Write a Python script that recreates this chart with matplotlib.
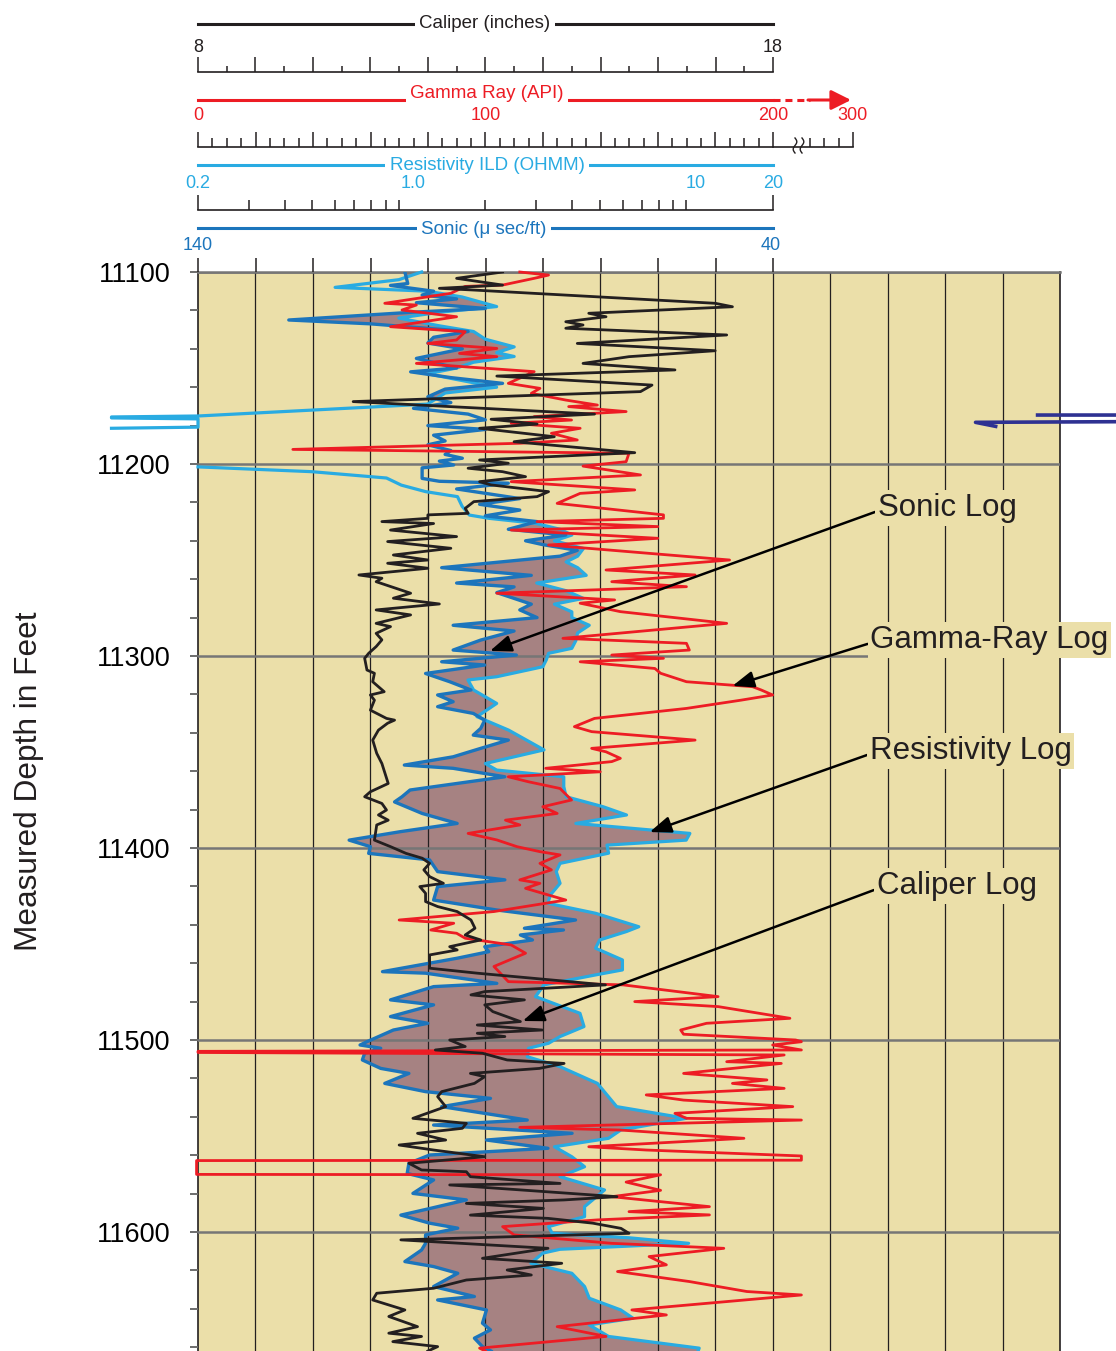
import numpy as np
import matplotlib
matplotlib.use("Agg")
import matplotlib.pyplot as plt

plt.rcParams['font.family'] = ['Liberation Sans', 'DejaVu Sans']
nan = np.nan

# ---- log readings (depth in feet) ----
cal_depth = [11100, 11103.3, 11106.8, 11108.5, 11109.4, 11116.3, 11118.1, 11121.5, 11123.3, 11125.9,
             11127.6, 11129.3, 11132.8, 11137.2, 11141.0, 11144.1, 11147.6, 11151.0, 11154.2, 11158.9,
             11162.3, 11167.5, 11174.0, 11176.7, 11179.2, 11181.4, 11185.8, 11188.4, 11194.1, 11197.9,
             11199.6, 11202.2, 11204.0, 11206.6, 11209.2, 11210.9, 11214.4, 11217.0, 11219.6, 11223.1,
             11225.7, 11226.5, 11228.3, 11230.0, 11231.0, 11234.4, 11237.8, 11240.4, 11243.9, 11247.4,
             11250.0, 11251.7, 11254.3, 11257.8, 11259.5, 11261.3, 11267.3, 11269.9, 11272.9, 11276.0,
             11278.6, 11283.0, 11284.7, 11288.2, 11291.6, 11295.1, 11298.6, 11301.2, 11307.3, 11309.0,
             11313.4, 11318.6, 11320.3, 11323.0, 11328.2, 11332.5, 11333.4, 11335.0, 11338.6, 11343.8,
             11350.7, 11356.0, 11366.4, 11370.7, 11373.3, 11376.8, 11380.2, 11382.8, 11385.5, 11388.0,
             11395.9, 11399.3, 11402.8, 11405.3, 11408.0, 11411.4, 11414.9, 11418.4, 11420.1, 11423.6,
             11427.9, 11430.5, 11433.1, 11437.5, 11441.8, 11445.3, 11447.9, 11451.4, 11453.1, 11455.7,
             11462.6, 11465.2, 11471.3, 11474.8, 11476.5, 11479.1, 11481.7, 11485.2, 11490.4, 11492.2,
             11494.8, 11496.5, 11498.2, 11500.0, 11503.4, 11505.2, 11506.9, 11510.4, 11512.2, 11514.8,
             11517.4, 11519.1, 11522.6, 11526.9, 11529.5, 11534.7, 11540.8, 11543.4, 11546.0, 11548.6,
             11552.1, 11554.7, 11557.3, 11560.8, 11564.2, 11567.7, 11568.6, 11571.2, 11574.7, 11575.5,
             11581.6, 11583.3, 11585.1, 11587.7, 11591.2, 11592.9, 11595.4, 11598.1, 11600.7, 11604.1,
             11608.5, 11613.7, 11616.3, 11619.8, 11622.4, 11625.0, 11629.3, 11631.9, 11635.4, 11640.6,
             11644.0, 11649.3, 11652.7, 11654.4, 11657.1, 11659.7, 11662.0]
caliper = [13.3, 12.5, 13.3, 12.2, 12.8, 17.0, 17.3, 14.8, 15.1, 14.4,
           14.7, 14.4, 17.2, 14.6, 17.0, 15.5, 14.7, 16.3, 13.2, 15.9,
           15.7, 10.7, 14.9, 13.1, 13.9, 12.9, 14.2, 13.5, 15.6, 12.9,
           13.4, 12.7, 13.3, 13.7, 12.9, 13.1, 14.1, 13.9, 12.8, 12.65,
           12.7, 12.0, 12.0, 11.2, 12.1, 11.35, 12.5, 11.3, 12.4, 11.4,
           12.0, 11.3, 12.0, 10.8, 11.2, 11.1, 11.7, 11.4, 12.2, 11.1,
           11.7, 11.1, 11.35, 11.1, 11.2, 11.1, 10.97, 10.9, 10.94, 11.07,
           11.04, 11.24, 11.0, 11.07, 11.0, 11.28, 11.42, 11.3, 11.14, 11.04,
           11.11, 11.2, 11.31, 11.0, 10.9, 11.2, 11.28, 11.14, 11.31, 11.11,
           11.07, 11.35, 11.62, 11.9, 12.03, 11.93, 12.03, 12.27, 11.86, 11.96,
           11.96, 12.17, 12.51, 12.75, 12.82, 12.65, 12.92, 12.38, 12.51, 12.03,
           12.03, 12.86, 15.09, 12.99, 12.75, 13.68, 12.99, 13.13, 13.61, 12.86,
           13.99, 12.86, 13.34, 12.38, 12.65, 12.13, 12.95, 13.38, 14.37, 13.94,
           12.74, 12.99, 12.81, 12.24, 12.17, 12.31, 11.74, 12.67, 12.6, 11.82,
           12.31, 11.5, 12.1, 12.99, 11.67, 11.89, 12.67, 12.74, 14.3, 12.38,
           15.29, 14.37, 12.67, 14.01, 12.74, 14.09, 14.87, 15.36, 15.5, 11.53,
           14.09, 12.95, 14.33, 13.38, 13.8, 12.67, 12.1, 11.11, 11.04, 11.6,
           11.32, 11.82, 11.32, 11.89, 11.39, 12.17, 12.0]

gr_depth = [11100.0, 11101.6, 11103.3, 11106.8, 11107.5, 11111.1, 11116.3, 11117.2, 11119.8, 11123.3,
            11128.5, 11131.1, 11135.4, 11137.2, 11139.8, 11142.4, 11144.1, 11147.6, 11150.2, 11151.9,
            11158.0, 11160.6, 11163.2, 11166.7, 11169.3, 11170.1, 11172.7, 11175.3, 11177.1, 11178.8,
            11181.4, 11184.0, 11187.5, 11189.2, 11192.4, 11194.4, 11198.8, 11201.1, 11205.7, 11209.2,
            11213.5, 11215.3, 11220.5, 11226.5, 11228.3, 11230.0, 11232.6, 11234.4, 11238.7, 11242.2,
            11250.0, 11255.2, 11257.8, 11261.3, 11263.9, 11267.3, 11270.8, 11272.5, 11276.9, 11283.0,
            11290.8, 11293.4, 11296.9, 11299.5, 11301.2, 11303.0, 11306.5, 11309.0, 11313.4, 11316.0,
            11317.7, 11320.3, 11323.0, 11327.3, 11332.5, 11336.8, 11339.4, 11343.8, 11348.1, 11349.9,
            11353.3, 11355.0, 11358.5, 11360.3, 11362.9, 11365.5, 11369.0, 11375.0, 11378.5, 11382.0,
            11385.5, 11388.0, 11392.4, 11395.8, 11399.3, 11401.9, 11403.6, 11408.0, 11411.4, 11416.6,
            11418.4, 11421.0, 11427.1, 11433.1, 11437.5, 11439.2, 11442.7, 11444.4, 11447.0, 11450.5,
            11454.8, 11461.7, 11469.6, 11471.3, 11477.4, 11480.0, 11482.6, 11488.7, 11491.3, 11494.8,
            11497.0, 11500.0, 11500.9, 11502.6, 11505.2, 11505.9, 11506.5, 11507.8, 11511.3, 11512.2,
            11517.4, 11520.8, 11522.6, 11525.2, 11528.6, 11531.3, 11534.7, 11538.2, 11540.8, 11541.7,
            11545.5, 11546.9, 11551.2, 11555.6, 11557.3, 11560.4, 11562.6, 11562.8, 11570.0, 11570.2,
            11574.0, 11578.3, 11581.6, 11586.8, 11589.4, 11591.1, 11593.7, 11597.2, 11601.5, 11605.9,
            11608.5, 11612.8, 11617.1, 11620.6, 11625.8, 11631.0, 11632.8, 11640.6, 11643.2, 11649.3,
            11654.4, 11660.5, 11662.0]
gamma = [112, 122, 117, 106, 93, 88, 65, 76, 71, 90,
         67, 93, 90, 80, 104, 91, 104, 76, 101, 117,
         108, 119, 116, 128, 139, 129, 149, 117, 130, 109,
         133, 123, 132, 112, 33, 150, 149, 134, 154, 109,
         152, 133, 125, 162, 162, 118, 160, 109, 160, 122,
         185, 142, 173, 144, 170, 104, 145, 133, 147, 184,
         127, 170, 171, 144, 162, 133, 159, 161, 170, 193,
         196, 200, 189, 170, 138, 131, 137, 173, 137, 142,
         147, 144, 121, 140, 108, 115, 126, 130, 120, 125,
         107, 112, 94, 104, 111, 119, 126, 119, 123, 112,
         119, 114, 128, 103, 70, 89, 81, 90, 93, 109,
         114, 103, 108, 148, 181, 152, 181, 206, 177, 168,
         169, 208, 210, 200, 210, 0, 0, 204, 184, 203,
         169, 198, 186, 204, 156, 169, 207, 166, 170, 210,
         112, 147, 190, 136, 156, 210, 210, -0.5, -0.5, 161,
         149, 161, 144, 178, 150, 178, 139, 106, 110, 144,
         183, 157, 163, 146, 171, 191, 210, 151, 163, 125,
         142, 98, 100]

son_depth = [11100, 11106, 11107, 11110, 11112, 11114, 11116, 11119, 11121, 11125,
             11127, 11131, 11134, 11137, 11140, 11145, 11150, 11152, 11155, 11158,
             11161, 11165, 11168, 11171, 11174, 11177, 11180, 11182, 11185, 11188,
             11190, 11193, 11195, 11197, 11198.5, 11200.5, 11202, 11207.5, 11209, 11210,
             11213, 11218, 11221, 11224, 11227, 11230, 11234, 11237, 11240, 11242,
             11245, 11248, 11254, 11258, 11262, 11264, 11267, 11271, 11273, 11276,
             11280, 11284, 11287, 11291.7, 11296.9, 11299.5, 11303.0, 11304.7, 11309.1, 11313.4,
             11317.7, 11320.3, 11323.8, 11326.4, 11329.9, 11333.4, 11337.7, 11341.2, 11343.8, 11348.1,
             11352.5, 11356.8, 11358.5, 11362.9, 11366.4, 11369.8, 11373.3, 11376.0, 11378.5, 11382.0,
             11387.2, 11391.5, 11395.9, 11399.3, 11402.8, 11406.2, 11412.3, 11416.6, 11420.1, 11427.1,
             11432.3, 11437.5, 11441.8, 11442.7, 11445.3, 11447.9, 11451.4, 11454.0, 11457.4, 11464.4,
             11465.2, 11470.5, 11472.2, 11479.1, 11481.7, 11487.8, 11491.3, 11494.8, 11500.9, 11502.6,
             11504.3, 11506.9, 11510.4, 11514.8, 11517.4, 11522.6, 11526.9, 11530.4, 11534.7, 11541.7,
             11544.3, 11548.6, 11552.1, 11556.4, 11559.9, 11564.2, 11569.5, 11572.9, 11579.9, 11583.3,
             11588.0, 11591.2, 11595.4, 11598.0, 11601.5, 11605.9, 11609.4, 11615.4, 11618.0, 11621.5,
             11628.4, 11633.6, 11635.4, 11640.6, 11647.5, 11651.0, 11655.3, 11659.7, 11662.0]
sonic = [104, 103.5, 106.5, 99, 101, 95, 102, 90, 103, 124.2,
         110, 93, 99, 100, 94, 102, 95, 103, 96, 87,
         97, 100, 96, 102.5, 93, 90, 100, 90, 99, 97,
         100, 96, 97, 94, 98, 95.5, 101, 101, 98, 86,
         95, 84, 91, 84, 90, 81, 86, 76, 83, 80,
         74, 77, 97.6, 82, 95, 85, 88, 84, 82, 84,
         81, 95.6, 85, 90.8, 95.6, 84.6, 97.6, 90.1, 100.4, 96.2,
         92.5, 98.3, 95.6, 98.3, 92.1, 90.1, 90.8, 92.1, 86.0, 90.8,
         95.6, 104.1, 95.6, 86.6, 94.9, 103.1, 104.5, 105.8, 103.8, 101.0,
         94.9, 104.8, 113.7, 110.0, 110.3, 99.7, 98.3, 86.6, 98.3, 99.0,
         88.0, 74.3, 83.2, 76.4, 83.9, 81.8, 90.1, 89.4, 94.9, 107.9,
         100.4, 88.0, 99.0, 106.5, 99.0, 106.5, 100.0, 106.0, 110.6, 111.8,
         108.2, 111.0, 111.4, 108.2, 103.3, 107.5, 100.4, 89.1, 97.6, 82.7,
         99.0, 74.9, 89.8, 79.1, 99.7, 103.3, 103.6, 99.0, 102.6, 93.3,
         100.0, 104.7, 99.7, 94.8, 100.4, 100.4, 101.1, 104.0, 99.0, 94.8,
         99.0, 91.9, 98.3, 89.8, 90.5, 89.1, 91.9, 90.5, 89.0]

res_depth = [11100, 11104, 11108, 11110, 11113, 11118, 11121, 11124, 11128, 11131,
             11135, 11139, 11142, 11144, 11147, 11150, 11153, 11156, 11160, 11163,
             11168.8, 11175.0, 11175.5, 11176.0, 11176.5, 11180.8, 11181.4, 11191.0, 11201.5, 11204.0,
             11207.3, 11211.0, 11214.4, 11217.0, 11222.0, 11226.6, 11228.3, 11230.9, 11234.0, 11237.0,
             11240.0, 11244.0, 11248.0, 11251.0, 11254.0, 11258.0, 11262.0, 11266.0, 11270.0, 11273.0,
             11277.0, 11280.0, 11284.0, 11288.0, 11292.0, 11296.0, 11298.6, 11302.0, 11305.6, 11310.8,
             11312.5, 11317.7, 11324.7, 11331.6, 11338.6, 11348.9, 11356.0, 11359.4, 11362.9, 11368.0,
             11373.3, 11378.5, 11382.8, 11387.2, 11392.4, 11395.9, 11398.5, 11402.7, 11408.0, 11412.3,
             11418.4, 11424.4, 11428.8, 11434.0, 11441.0, 11443.5, 11447.9, 11452.2, 11458.3, 11463.5,
             11466.1, 11471.3, 11477.4, 11486.1, 11493.0, 11498.2, 11501.7, 11504.3, 11508.7, 11513.9,
             11522.6, 11534.7, 11540.8, 11546.9, 11551.2, 11555.6, 11560.8, 11566.0, 11571.2, 11578.1,
             11586.8, 11592.0, 11597.2, 11600.7, 11603.0, 11605.9, 11609.0, 11611.0, 11616.3, 11621.5,
             11628.4, 11634.5, 11640.6, 11644.9, 11648.4, 11654.4, 11660.5, 11662.0]
resist = [1.2, 1.0, 0.60, 1.26, 1.66, 2.19, 1.38, 1.0, 1.38, 1.82,
          2.0, 2.52, 2.19, 2.52, 1.82, 1.59, 1.26, 1.59, 2.19, 1.45,
          1.26, 0.2, 0.1, 0.1, 0.2, 0.2, 0.1, nan, 0.2, 0.498,
          0.906, 1.02, 1.24, 1.60, 1.66, 1.76, 2.06, 2.99, 3.64, 4.0,
          3.48, 4.39, 4.19, 3.82, 4.19, 4.49, 3.02, 3.82, 4.39, 3.48,
          4.0, 4.0, 4.60, 4.19, 4.13, 4.0, 3.32, 3.26, 3.17, 2.19,
          1.74, 1.82, 2.19, 1.87, 2.41, 3.20, 2.0, 2.19, 3.75, 3.75,
          3.82, 5.14, 6.20, 4.13, 10.3, 10.0, 5.30, 5.37, 3.64, 3.53,
          3.64, 3.37, 3.30, 4.84, 6.84, 6.20, 5.0, 4.84, 6.0, 6.0,
          4.84, 3.20, 2.99, 4.27, 4.41, 3.64, 3.32, 2.83, 2.80, 3.64,
          4.91, 5.73, 10.0, 5.92, 5.37, 3.48, 4.0, 4.43, 3.64, 5.20,
          4.43, 4.43, 3.32, 3.42, 6.32, 10.2, 3.64, 3.17, 2.88, 4.0,
          4.43, 4.60, 5.92, 6.53, 4.60, 5.37, 11.1, 11.0]

# sonic trace wrapping in from beyond the right edge
wrap_depth = [11174.5, 11174.5, 11176.0, 11177.9, 11178.3, 11180.4]
sonic_wrap = [-25, -6.1, nan, -25, 4.7, 1.2]

depth_ticks = [11100, 11200, 11300, 11400, 11500, 11600]

# ---- colours ----
TAN = '#ebdfa9'
FILL = '#a68282'
K = '#231f20'
RED = '#ed1c24'
LBLUE = '#29abe2'
DBLUE = '#1c75bc'
NAVY = '#2e3192'

W, H = 1116, 1351
fig = plt.figure(figsize=(W / 100, H / 100), dpi=100)

# main track: 1.92 px per foot, starts at 11100 on pixel row 272
ax = fig.add_axes([198 / W, 0, 862 / W, 1079 / H])
ax.set_facecolor(TAN)
ax.set_xlim(8, 23)
ax.set_ylim(11100 + 1079 / 1.92, 11100)
ax.set_axisbelow(False)
ax.set_xticks(np.arange(9, 23))
ax.tick_params(axis='x', length=0, labelbottom=False)
ax.grid(axis='x', color=K, lw=0.9)
ax.set_yticks(depth_ticks)
ax.set_yticklabels([str(d) for d in depth_ticks], fontsize=19.5)
ax.set_yticks(np.arange(11100, 11661, 20), minor=True)
ax.grid(axis='y', which='major', color='#767676', lw=1.8)
ax.tick_params(axis='y', which='both', length=5.8, width=1.4, color='#6d6d6d', pad=14)
ax.spines['bottom'].set_visible(False)
ax.spines['top'].set_color('#767676')
ax.spines['top'].set_linewidth(1.8)
for s in ['left', 'right']:
    ax.spines[s].set_color(K)
    ax.spines[s].set_linewidth(1.2)

ax_res = ax.twiny()
ax_res.set_xscale('log')
ax_res.set_xlim(0.2, 200)
ax_son = ax.twiny()
ax_son.set_xlim(140, -10)
ax_gr = ax.twiny()
ax_gr.set_xlim(0, 300)
ax_cal = ax.twiny()
ax_cal.set_xlim(8, 23)
for a in [ax_res, ax_son, ax_gr, ax_cal]:
    a.axis('off')


def base_x(axt, xs, ds):
    pts = axt.transData.transform(np.column_stack([xs, ds]))
    return ax.transData.inverted().transform(pts)[:, 0]


# crossover fill between sonic and resistivity
ok = np.isfinite(resist)
rd = np.asarray(res_depth, float)[ok]
rv = np.asarray(resist, float)[ok]
sd = np.asarray(son_depth, float)
sv = np.asarray(sonic, float)
grid = np.union1d(sd, rd)
son_b = np.interp(grid, sd, base_x(ax_son, sv, sd))
res_b = np.interp(grid, rd, base_x(ax_res, rv, rd))
ax.fill_betweenx(grid, son_b, res_b, where=res_b > son_b, interpolate=True,
                 color=FILL, lw=0, zorder=1)

ax_res.plot(resist, res_depth, color=LBLUE, lw=2.3, clip_on=False)
ax_son.plot(sonic, son_depth, color=DBLUE, lw=2.4)
ax_son.plot(sonic_wrap, wrap_depth, color=NAVY, lw=2.6, clip_on=False)
ax_gr.plot(gamma, gr_depth, color=RED, lw=2.0, clip_on=False)
ax_cal.plot(caliper, cal_depth, color=K, lw=2.0)

# labels with arrows
notes = [('Sonic Log', (13.08, 11297.4), (19.83, 11222.9)),
         ('Gamma-Ray Log', (17.3, 11315.6), (19.7, 11291.7)),
         ('Resistivity Log', (15.86, 11391.7), (19.69, 11349.5)),
         ('Caliper Log', (13.65, 11490.1), (19.81, 11419.8))]
for txt, head, pos in notes:
    ax_cal.annotate(txt, xy=head, xytext=pos, fontsize=22.5, color=K,
                    ha='left', va='center', annotation_clip=False, zorder=6,
                    bbox=dict(fc=TAN, ec='none', pad=2),
                    arrowprops=dict(arrowstyle='-|>,head_length=0.65,head_width=0.25',
                                    color='k', lw=1.8, mutation_scale=20,
                                    shrinkA=0, shrinkB=0, relpos=(0, 0.4)))

fig.text(29 / W, 1 - 781 / H, 'Measured Depth in Feet', rotation=90,
         ha='center', va='center', fontsize=22.8, color=K)


# ---- scale rulers in the header ----
def ruler(px0, px1, py, lo, hi, scale='linear'):
    r = fig.add_axes([px0 / W, 1 - py / H, (px1 - px0) / W, 0.5 / H])
    r.set_xscale(scale)
    r.set_xlim(lo, hi)
    r.patch.set_visible(False)
    for s in ['top', 'left', 'right']:
        r.spines[s].set_visible(False)
    r.spines['bottom'].set_color(K)
    r.spines['bottom'].set_linewidth(1.2)
    r.set_yticks([])
    r.tick_params(axis='x', which='both', direction='in', labelbottom=False,
                  color=K, width=1.1)
    return r


r = ruler(198, 773, 72, 8, 18)
r.set_xticks(np.arange(8, 19))
r.set_xticks(np.arange(8.5, 18, 1), minor=True)
r.tick_params(axis='x', which='major', length=10.8)
r.tick_params(axis='x', which='minor', length=4.3)

r = ruler(198, 773, 146.5, 0, 200)
r.set_xticks(np.arange(0, 201, 20))
r.set_xticks(np.arange(5, 200, 5), minor=True)
r.tick_params(axis='x', which='major', length=10.8)
r.tick_params(axis='x', which='minor', length=6.3)

r = ruler(773, 853, 146.5, 272, 300)
r.set_xticks([300])
r.set_xticks([285, 290, 295], minor=True)
r.tick_params(axis='x', which='major', length=10.8)
r.tick_params(axis='x', which='minor', length=6.3)

r = ruler(198, 773, 209.5, 0.2, 20, 'log')
r.set_xticks([0.2, 20])
r.set_xticks([0.3, 0.4, 0.5, 0.6, 0.7, 0.8, 0.9, 1, 2, 3, 4, 5, 6, 7, 8, 9, 10], minor=True)
r.tick_params(axis='x', which='major', length=10.5)
r.tick_params(axis='x', which='minor', length=7.0)

r = ruler(198, 773, 272, 140, 40)
r.spines['bottom'].set_visible(False)
r.set_xticks(np.arange(140, 39, -10))
r.xaxis.set_minor_locator(matplotlib.ticker.NullLocator())
r.tick_params(axis='x', which='major', length=10)

# header titles and numbers, drawn in pixel space
hd = fig.add_axes([0, 0, 1, 1])
hd.set_xlim(0, W)
hd.set_ylim(H, 0)
hd.axis('off')
box = dict(fc='white', ec='none', pad=3)

hd.plot([198, 773], [24, 24], color=K, lw=2.2)
hd.text(485, 24, 'Caliper (inches)', ha='center', va='center', fontsize=13.5, color=K, bbox=box)
for x, s in [(198, '8'), (773, '18')]:
    hd.text(x, 47, s, ha='center', va='center', fontsize=13, color=K)

hd.plot([198, 773], [100, 100], color=RED, lw=2.2)
hd.plot([773, 810], [100, 100], color=RED, lw=2.2, ls=(0, (2.3, 1.6)))
hd.annotate('', xy=(851, 100), xytext=(808, 100),
            arrowprops=dict(arrowstyle='-|>,head_length=0.6,head_width=0.3',
                            color=RED, lw=2.2, mutation_scale=20, shrinkA=0, shrinkB=0))
hd.text(487, 93, 'Gamma Ray (API)', ha='center', va='center', fontsize=13.5, color=RED, bbox=box)
for x, s in [(198, '0'), (486, '100'), (773, '200'), (852, '300')]:
    hd.text(x, 116, s, ha='center', va='center', fontsize=13, color=RED)
t = np.linspace(0, 1, 30)
for x0 in [795, 802]:
    hd.plot(x0 + 1.8 * np.sin(2 * np.pi * t), 138 + 15 * t, color=K, lw=1.0)

hd.plot([198, 773], [165, 165], color=LBLUE, lw=2.2)
hd.text(487, 165, 'Resistivity ILD (OHMM)', ha='center', va='center', fontsize=13.5,
        color=LBLUE, bbox=box)
for x, s in [(198, '0.2'), (413, '1.0'), (696, '10'), (773, '20')]:
    hd.text(x, 184, s, ha='center', va='center', fontsize=13, color=LBLUE)

hd.plot([198, 773], [228, 228], color=DBLUE, lw=2.2)
hd.text(484, 229, 'Sonic (μ sec/ft)', ha='center', va='center', fontsize=13.5,
        color=DBLUE, bbox=box)
for x, s in [(198, '140'), (771, '40')]:
    hd.text(x, 245, s, ha='center', va='center', fontsize=13, color=DBLUE)

fig.savefig('out.png', dpi=100)
